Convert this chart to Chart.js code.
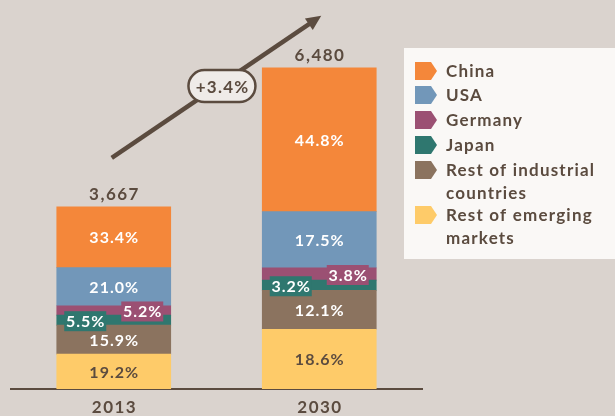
<!DOCTYPE html>
<html><head><meta charset="utf-8">
<script src="https://cdn.jsdelivr.net/npm/chart.js@4/dist/chart.umd.min.js"></script>
<style>html,body{margin:0;padding:0;background:#dad3ce;}canvas{display:block}</style>
</head><body><canvas id="c" width="615" height="416"></canvas>
<script>
const years = ['2013', '2030'];
const totals = [3667, 6480];
const totalLabels = ['3,667', '6,480'];
const growthLabel = '+3.4%';
// shares in percent, bottom to top of the stack
const restEmerging = [19.2, 18.6];
const restIndustrial = [15.9, 12.1];
const japan = [5.5, 3.2];
const germany = [5.2, 3.8];
const usa = [21.0, 17.5];
const china = [33.4, 44.8];
const seriesNames = ['Rest of emerging markets', 'Rest of industrial countries', 'Japan', 'Germany', 'USA', 'China'];
const legendLines = [['China'], ['USA'], ['Germany'], ['Japan'], ['Rest of industrial', 'countries'], ['Rest of emerging', 'markets']];

const DARK = '#5b4b3f';
const colors = {
  'China': '#f4873a', 'USA': '#7297b9', 'Germany': '#9b5073', 'Japan': '#2f776f',
  'Rest of industrial countries': '#8b735f', 'Rest of emerging markets': '#fecb69'
};
const legendColors = ['#f4873a', '#7297b9', '#9b5073', '#2f776f', '#8b735f', '#fecb69'];
const shares = [restEmerging, restIndustrial, japan, germany, usa, china];
const FONT = 'Lato, "Open Sans", sans-serif';

const datasets = seriesNames.map((name, k) => ({
  label: name,
  data: shares[k].map((p, i) => p * totals[i] / 100),
  shares: shares[k],
  backgroundColor: colors[name],
  borderWidth: 0,
  barThickness: 114
}));

function spacedText(ctx, txt, x, y, spacing) {
  ctx.letterSpacing = spacing + 'px';
  // compensate trailing spacing for centered text
  const off = ctx.textAlign === 'center' ? spacing / 2 : 0;
  ctx.fillText(txt, x + off, y);
}

const labelPlugin = {
  id: 'labels',
  afterDatasetsDraw(chart) {
    const ctx = chart.ctx;
    ctx.save();
    ctx.font = 'bold 16px ' + FONT;
    ctx.textAlign = 'center';
    ctx.textBaseline = 'middle';
    chart.data.datasets.forEach((ds, di) => {
      const meta = chart.getDatasetMeta(di);
      meta.data.forEach((el, i) => {
        const mid = (el.y + el.base) / 2;
        const txt = ds.shares[i].toFixed(1) + '%';
        let x = el.x;
        if (ds.label === 'Japan' || ds.label === 'Germany') {
          x = el.x + (ds.label === 'Japan' ? -28.5 : 28.5);
          ctx.fillStyle = ds.backgroundColor;
          ctx.fillRect(x - 21, mid + 1 - 10, 42, 20);
          ctx.fillStyle = '#ffffff';
          spacedText(ctx, txt, x, mid + 1.5, 1);
        } else {
          ctx.fillStyle = ds.label === 'Rest of emerging markets' ? DARK : '#ffffff';
          spacedText(ctx, txt, x, mid + 1, 1);
        }
      });
    });
    // totals
    const topMeta = chart.getDatasetMeta(chart.data.datasets.length - 1);
    ctx.font = 'bold 17px ' + FONT;
    ctx.fillStyle = DARK;
    topMeta.data.forEach((el, i) => {
      spacedText(ctx, totalLabels[i], el.x, el.y - 12, 1.5);
      // category labels
      spacedText(ctx, years[i], el.x, chart.chartArea.bottom + 19, 1.5);
    });

    // growth arrow
    const b1 = topMeta.data[0], b2 = topMeta.data[1];
    const sx = b1.x - 2, sy = b1.y - 49;
    const ex = b2.x + 2, ey = b2.y - 52;
    const ang = Math.atan2(ey - sy, ex - sx);
    const headLen = 15, headW = 7;
    const lx = ex - Math.cos(ang) * (headLen - 2), ly = ey - Math.sin(ang) * (headLen - 2);
    ctx.strokeStyle = DARK;
    ctx.lineWidth = 4.5;
    ctx.lineCap = 'butt';
    ctx.beginPath(); ctx.moveTo(sx, sy); ctx.lineTo(lx, ly); ctx.stroke();
    ctx.fillStyle = DARK;
    ctx.beginPath();
    ctx.moveTo(ex, ey);
    const bx = ex - Math.cos(ang) * headLen, by = ey - Math.sin(ang) * headLen;
    ctx.lineTo(bx + Math.sin(ang) * headW, by - Math.cos(ang) * headW);
    ctx.lineTo(bx - Math.sin(ang) * headW, by + Math.cos(ang) * headW);
    ctx.closePath(); ctx.fill();
    // pill
    const t = 0.526;
    const px = sx + (ex - sx) * t, py = sy + (ey - sy) * t + 3;
    const pw = 67, ph = 32, r = 16;
    ctx.beginPath();
    ctx.moveTo(px - pw / 2 + r, py - ph / 2);
    ctx.lineTo(px + pw / 2 - r, py - ph / 2);
    ctx.arc(px + pw / 2 - r, py, r, -Math.PI / 2, Math.PI / 2);
    ctx.lineTo(px - pw / 2 + r, py + ph / 2);
    ctx.arc(px - pw / 2 + r, py, r, Math.PI / 2, Math.PI * 1.5);
    ctx.closePath();
    ctx.fillStyle = '#efebe8';
    ctx.fill();
    ctx.lineWidth = 2.5;
    ctx.strokeStyle = DARK;
    ctx.stroke();
    ctx.fillStyle = DARK;
    ctx.font = 'bold 17px ' + FONT;
    spacedText(ctx, growthLabel, px, py + 1, 1.2);

    // legend
    const lx0 = 404, ly0 = 48;
    ctx.fillStyle = '#faf8f6';
    ctx.fillRect(lx0, ly0, chart.width - lx0, 211);
    const itemY = [71, 95, 120, 145, 170, 215];
    ctx.textAlign = 'left';
    ctx.font = 'bold 17px ' + FONT;
    legendLines.forEach((lines, k) => {
      const cy = itemY[k];
      ctx.fillStyle = legendColors[k];
      ctx.beginPath();
      ctx.moveTo(415, cy - 9);
      ctx.lineTo(431, cy - 9);
      ctx.lineTo(437, cy);
      ctx.lineTo(431, cy + 9);
      ctx.lineTo(415, cy + 9);
      ctx.closePath(); ctx.fill();
      ctx.fillStyle = DARK;
      lines.forEach((ln, j) => spacedText(ctx, ln, 446, cy + 1 + j * 22.5, 1.2));
    });
    ctx.restore();
  }
};

new Chart(document.getElementById('c'), {
  type: 'bar',
  data: { labels: years, datasets },
  options: {
    responsive: false,
    devicePixelRatio: 1,
    animation: false,
    layout: { padding: { top: 42, left: 11, right: 193, bottom: 0 } },
    plugins: { legend: { display: false }, tooltip: { enabled: false } },
    scales: {
      x: {
        stacked: true,
        grid: { display: false, drawTicks: false },
        border: { display: true, color: DARK, width: 2 },
        ticks: { display: false },
        afterFit(scale) { scale.height = 27; }
      },
      y: { stacked: true, display: false, min: 0, max: 7000 }
    }
  },
  plugins: [labelPlugin]
});
</script>
</body></html>
